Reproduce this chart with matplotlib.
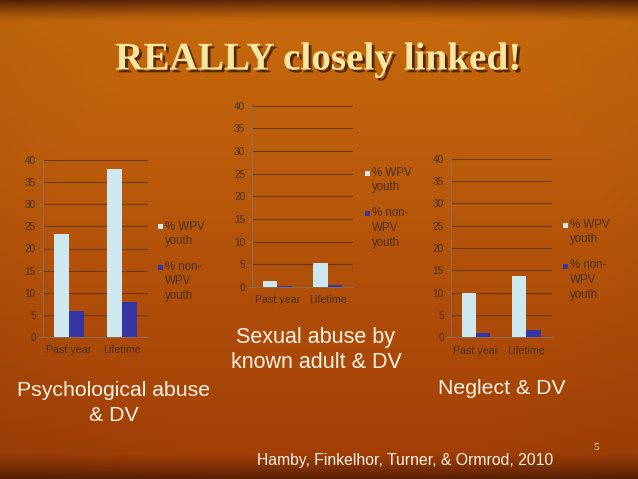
import numpy as np
import matplotlib
matplotlib.use("Agg")
import matplotlib.pyplot as plt
import matplotlib.patheffects as pe
from matplotlib.patches import Rectangle

categories = ["Past year", "Lifetime"]
series_names = ["% WPV\nyouth", "% non-\nWPV\nyouth"]
psych_wpv = [23.2, 37.9]
psych_non = [5.8, 7.9]
sexual_wpv = [1.4, 5.3]
sexual_non = [0.15, 0.4]
neglect_wpv = [9.9, 13.7]
neglect_non = [1.0, 1.6]
yticks = [0, 5, 10, 15, 20, 25, 30, 35, 40]

W, H = 638, 479
fig = plt.figure(figsize=(W / 100, H / 100), dpi=100)

# background gradient
bg = fig.add_axes([0, 0, 1, 1], zorder=-10)
yy, xx = np.mgrid[0:H, 0:W]
top_col = np.array([0.78, 0.42, 0.05])
bot_col = np.array([0.63, 0.24, 0.03])
dark = np.array([0.30, 0.11, 0.02])
v = (yy / H)[..., None]
img = top_col[None, None, :] * (1 - v) + bot_col[None, None, :] * v
t = np.zeros((H, W))
t += np.clip((22 - yy) / 22, 0, 1) ** 1.3 * 0.85
t += np.clip((yy - 452) / 27, 0, 1) ** 1.2 * 0.85
r = np.sqrt(((xx - 330) / 420) ** 2 + ((yy - 230) / 330) ** 2)
t += np.clip(r - 0.65, 0, 1) * 0.25
t = np.clip(t, 0, 1)
img = img * (1 - t[..., None]) + dark[None, None, :] * t[..., None]
bg.imshow(img, aspect="auto", extent=[0, 1, 0, 1], origin="upper")
bg.set_axis_off()

LIGHT = "#CDE8EE"
DARK = "#3535A3"
GRID = "#74340A"
TICKC = "#4A3020"

def make_chart(rect, wpv, non, leg_x, leg_y1, leg_y2):
    ax = fig.add_axes(rect)
    ax.set_facecolor("none")
    x = np.arange(len(categories))
    w = 1 / 3.5
    ax.bar(x - w / 2, wpv, width=w, color=LIGHT, zorder=3)
    ax.bar(x + w / 2, non, width=w, color=DARK, zorder=3)
    ax.set_xlim(-0.5, len(categories) - 0.5)
    ax.set_ylim(0, 40)
    ax.set_yticks(yticks)
    ax.set_yticklabels([str(v) for v in yticks], fontsize=7.2, color=TICKC,
                       family="Liberation Sans")
    ax.set_xticks(x)
    ax.set_xticklabels(categories, fontsize=7.7, color=TICKC, family="Liberation Sans")
    ax.tick_params(axis="x", length=0, pad=6)
    ax.tick_params(axis="y", length=3, color="#8A7060", width=0.6, pad=2)
    ax.grid(axis="y", color=GRID, linewidth=0.8, zorder=0)
    for s in ["top", "right"]:
        ax.spines[s].set_visible(False)
    ax.spines["left"].set_color("#8A7060")
    ax.spines["left"].set_linewidth(0.6)
    ax.spines["bottom"].set_color("#8A7060")
    ax.spines["bottom"].set_linewidth(0.6)
    # legend
    for col, ly, lab in [(LIGHT, leg_y1, series_names[0]), (DARK, leg_y2, series_names[1])]:
        fig.patches.append(Rectangle(((leg_x - 2.5) / W, 1 - (ly + 2.5) / H), 5 / W, 5 / H,
                                     transform=fig.transFigure, facecolor=col,
                                     edgecolor="none"))
        fig.text((leg_x + 5) / W, 1 - (ly - 6.5) / H, lab, fontsize=8.3, color=TICKC,
                 family="Liberation Sans", ha="left", va="top", linespacing=1.3)
    return ax

make_chart([42.7 / W, 1 - 337 / H, 105.3 / W, 177 / H], psych_wpv, psych_non, 160, 227, 267)
make_chart([252.3 / W, 1 - 287 / H, 100.7 / W, 181.3 / H], sexual_wpv, sexual_non, 367, 173, 214)
make_chart([450.7 / W, 1 - 337.3 / H, 101 / W, 178.6 / H], neglect_wpv, neglect_non, 565, 225, 266)

TXT = "#F8F2E4"
fig.text(318 / W, 1 - 60 / H, "REALLY closely linked!", fontsize=28.2, fontweight="bold",
         family="Liberation Serif", color="#F6E6A2", ha="center", va="center",
         path_effects=[pe.withSimplePatchShadow(offset=(2, -2), shadow_rgbFace="#3A1A05",
                                                 alpha=0.8)])
fig.text(114 / W, 1 - 403 / H, "Psychological abuse\n& DV", fontsize=15.3, color=TXT,
         family="Liberation Sans", ha="center", va="center", linespacing=1.35)
fig.text(316 / W, 1 - 350 / H, "Sexual abuse by\nknown adult & DV", fontsize=15.5, color=TXT,
         family="Liberation Sans", ha="center", va="center", linespacing=1.3)
fig.text(502 / W, 1 - 389 / H, "Neglect & DV", fontsize=15.3, color=TXT,
         family="Liberation Sans", ha="center", va="center")
fig.text(405 / W, 1 - 460 / H, "Hamby, Finkelhor, Turner, & Ormrod, 2010", fontsize=11.3,
         color=TXT, family="Liberation Sans", ha="center", va="center")
fig.text(596 / W, 1 - 447 / H, "5", fontsize=8, color=TXT, family="Liberation Serif",
         ha="center", va="center")

fig.savefig("out.png", dpi=100)
